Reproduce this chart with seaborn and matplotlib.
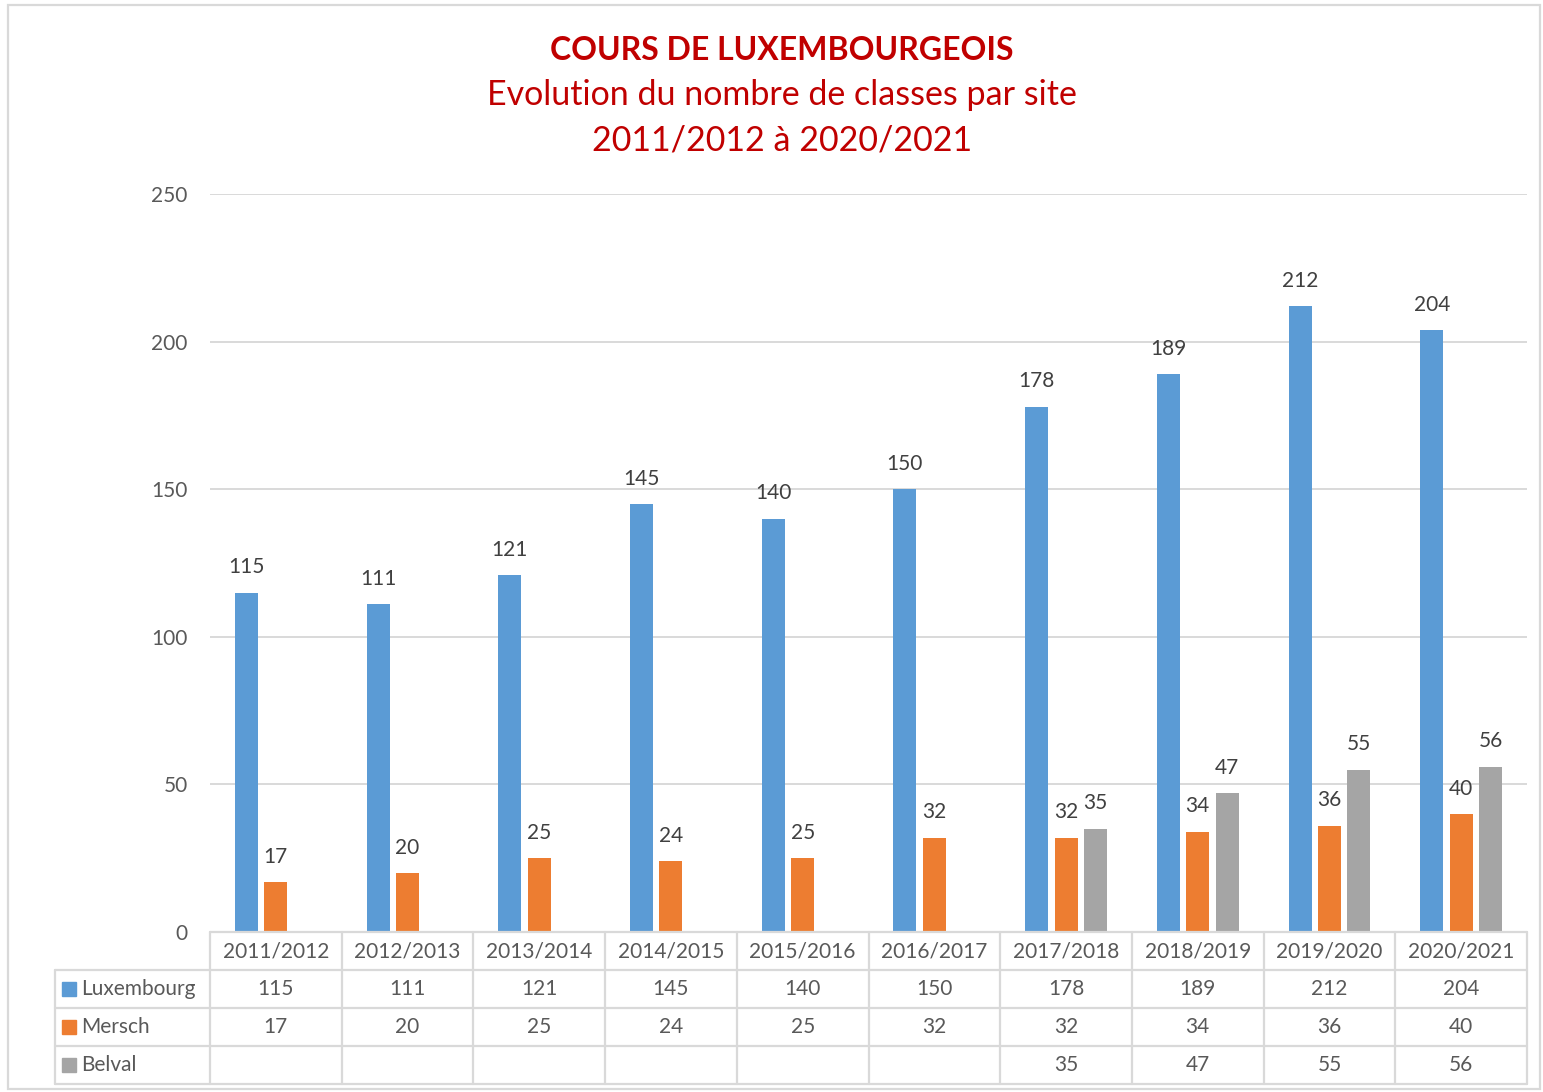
import pandas as pd
import matplotlib.pyplot as plt
import matplotlib.transforms as mtransforms
from matplotlib.lines import Line2D
from matplotlib.patches import Rectangle
import seaborn as sns

# Data
years = ['2011/2012', '2012/2013', '2013/2014', '2014/2015', '2015/2016',
         '2016/2017', '2017/2018', '2018/2019', '2019/2020', '2020/2021']
sites = ['Luxembourg', 'Mersch', 'Belval']
luxembourg = [115, 111, 121, 145, 140, 150, 178, 189, 212, 204]
mersch = [17, 20, 25, 24, 25, 32, 32, 34, 36, 40]
belval = [None, None, None, None, None, None, 35, 47, 55, 56]
colors = ['#5B9BD5', '#ED7D31', '#A5A5A5']

series = {'Luxembourg': luxembourg, 'Mersch': mersch, 'Belval': belval}
rows = []
for site, vals in series.items():
    for year, v in zip(years, vals):
        if v is not None:
            rows.append({'Année': year, 'Site': site, 'Classes': v})
df = pd.DataFrame(rows)

sns.set_style('white')
plt.rcParams['font.family'] = ['Lato', 'DejaVu Sans']
text_color = '#595959'
grid_color = '#D9D9D9'
red = '#C00000'
fs = 15

W, H = 1543, 1092
fig = plt.figure(figsize=(W / 100, H / 100), dpi=100)
ax = fig.add_axes([210 / W, 1 - 932 / H, (1527 - 210) / W, (932 - 194) / H])

sns.barplot(data=df, x='Année', y='Classes', hue='Site', order=years,
            hue_order=sites, palette=colors, width=0.67, gap=0.22,
            saturation=1, linewidth=0, legend=False, ax=ax)

for cont in ax.containers:
    ax.bar_label(cont, fmt='{:.0f}', padding=11, fontsize=fs, color='#404040')

ax.set_xlim(-0.5, len(years) - 0.5)
ax.set_ylim(0, 250)
ax.set_yticks([0, 50, 100, 150, 200, 250])
ax.yaxis.grid(True, color=grid_color, linewidth=1.4)
ax.set_axisbelow(True)
ax.tick_params(axis='y', length=0, pad=16, labelsize=fs, labelcolor=text_color)
ax.tick_params(axis='x', length=0, labelbottom=False)
ax.set_xlabel('')
ax.set_ylabel('')
for s in ax.spines.values():
    s.set_visible(False)

# Data table below the plot
trans = mtransforms.blended_transform_factory(ax.transData, ax.transAxes)
rh = 38 / 738
label_left = (55 - 210) / 131.7 - 0.5
n = len(years)

def line(xs, ys):
    ax.add_artist(Line2D(xs, ys, transform=trans, color=grid_color,
                         linewidth=1.6, clip_on=False))

line([-0.5, n - 0.5], [0, 0])
for r in range(1, 5):
    line([label_left, n - 0.5], [-r * rh, -r * rh])
for k in range(n + 1):
    line([k - 0.5, k - 0.5], [0, -4 * rh])
line([label_left, label_left], [-rh, -4 * rh])

for i, y in enumerate(years):
    ax.text(i, -0.5 * rh, y, transform=trans, ha='center', va='center',
            fontsize=fs, color=text_color)

for r, site in enumerate(sites):
    yc = -(r + 1.5) * rh
    ax.add_artist(Line2D([(69 - 210) / 131.7 - 0.5], [yc], transform=trans,
                         marker='s', markersize=9.5, color=colors[r],
                         linestyle='none', clip_on=False))
    ax.text((81 - 210) / 131.7 - 0.5, yc, site, transform=trans, ha='left',
            va='center', fontsize=fs, color=text_color)
    for i, v in enumerate(series[site]):
        if v is not None:
            ax.text(i, yc, str(v), transform=trans, ha='center', va='center',
                    fontsize=fs, color=text_color)

# Titles
fig.text(782 / W, 1 - 50 / H, 'COURS DE LUXEMBOURGEOIS', ha='center',
         va='center', fontsize=23, fontweight='bold', color=red)
fig.text(782 / W, 1 - 95 / H, 'Evolution du nombre de classes par site',
         ha='center', va='center', fontsize=24.5, color=red)
fig.text(782 / W, 1 - 140 / H, '2011/2012 à 2020/2021', ha='center',
         va='center', fontsize=24.5, color=red)

# Chart frame
fig.patches.append(Rectangle((8 / W, 1 - 1089 / H), (1540 - 8) / W,
                             (1089 - 5) / H, transform=fig.transFigure,
                             fill=False, edgecolor=grid_color, linewidth=1.6))

fig.savefig('out.png', dpi=100)
